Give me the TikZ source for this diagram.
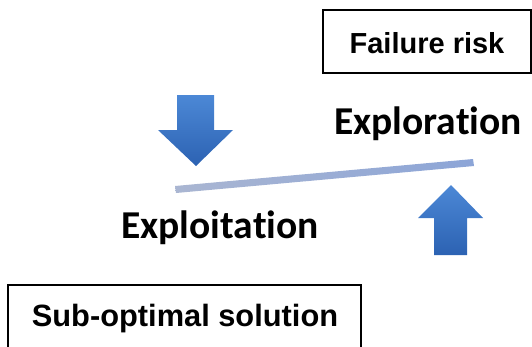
\documentclass[tikz,border=0pt]{standalone}
\usepackage{fontspec}
\newfontfamily\arialb{Liberation Sans Bold}
\newfontfamily\calib[RawFeature=-liga]{Carlito Bold}
\begin{document}
\begin{tikzpicture}[x=1pt,y=-1pt,
  labelbox/.style={draw=black,line width=1.6pt,inner sep=0pt},
  boxtext/.style={font=\arialb\fontsize{29}{32}\selectfont,inner sep=0pt,anchor=base},
  bigtext/.style={font=\calib\fontsize{39.5}{44}\selectfont,inner sep=0pt,anchor=base},
  bluearrow/.style={top color=arrowtop,bottom color=arrowbot,draw=none}]
\definecolor{arrowtop}{RGB}{76,136,214}
\definecolor{arrowbot}{RGB}{44,98,178}
\definecolor{barl}{RGB}{170,182,210}
\definecolor{barr}{RGB}{140,165,215}
\useasboundingbox (0,0) rectangle (532,346);
% boxes
\node[labelbox,minimum width=208pt,minimum height=63pt] (frbox) at (427,41.5) {};
\node[boxtext] (fr) at (427,53) {Failure risk};
\node[labelbox,minimum width=353pt,minimum height=80pt] (sobox) at (184.5,325) {};
\node[boxtext,font=\arialb\fontsize{30.8}{34}\selectfont] (so) at (185,326) {Sub-optimal solution};
% texts
\node[bigtext] (explor) at (428,134) {Exploration};
\node[bigtext] (exploit) at (220,238) {Exploitation};
% bar
\shade[left color=barl,right color=barr] (175,186) -- (473,159) -- (474,166) -- (176,193) -- cycle;
% arrows
\shade[bluearrow] (177,95) -- (214,95) -- (214,130) -- (233,130) -- (196,166) -- (158,130) -- (177,130) -- cycle;
\shade[bluearrow] (451,185) -- (483,218) -- (467,218) -- (467,255) -- (434,255) -- (434,218) -- (418,218) -- cycle;
\end{tikzpicture}
\end{document}
